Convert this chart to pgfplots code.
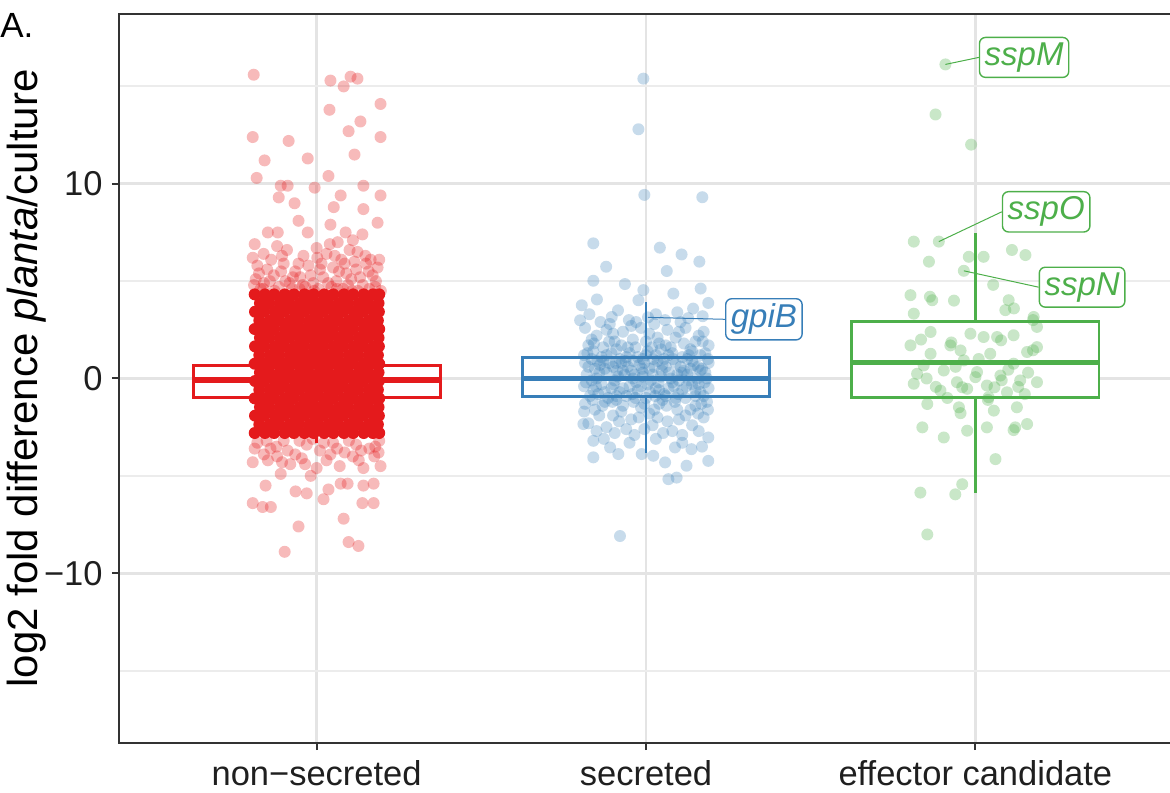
\documentclass[border=0pt]{standalone}
\usepackage{fontspec}
\setmainfont{Liberation Sans}
\usepackage{pgfplots}
\pgfplotsset{compat=1.18}
\usepackage{pgfplotstable}
\usepgfplotslibrary{statistics}

\definecolor{cred}{HTML}{E41A1C}
\definecolor{cblue}{HTML}{377EB8}
\definecolor{cgreen}{HTML}{4DAF4A}
\definecolor{gridmaj}{HTML}{E4E4E4}
\definecolor{gridmin}{HTML}{ECECEC}
\definecolor{axisdark}{HTML}{333333}

% non-secreted: dense centre of the cloud (one column of x per row of y)
\pgfplotstableread{
y a b c d e f g h i j k l m n
-2.80 0.812 0.843 0.871 0.903 0.931 0.963 0.991 1.023 1.051 1.083 1.111 1.143 1.171 1.190
-2.36 0.826 0.858 0.886 0.918 0.946 0.978 1.006 1.038 1.066 1.098 1.126 1.158 1.186 nan
-1.91 0.813 0.841 0.873 0.901 0.933 0.961 0.993 1.021 1.053 1.081 1.113 1.141 1.173 1.189
-1.47 0.828 0.856 0.888 0.916 0.948 0.976 1.008 1.036 1.068 1.096 1.128 1.156 1.188 nan
-1.02 0.812 0.843 0.871 0.903 0.931 0.963 0.991 1.023 1.051 1.083 1.111 1.143 1.171 1.190
-0.58 0.826 0.858 0.886 0.918 0.946 0.978 1.006 1.038 1.066 1.098 1.126 1.158 1.186 nan
-0.13 0.813 0.841 0.873 0.901 0.933 0.961 0.993 1.021 1.053 1.081 1.113 1.141 1.173 1.189
0.31 0.828 0.856 0.888 0.916 0.948 0.976 1.008 1.036 1.068 1.096 1.128 1.156 1.188 nan
0.76 0.812 0.843 0.871 0.903 0.931 0.963 0.991 1.023 1.051 1.083 1.111 1.143 1.171 1.190
1.20 0.826 0.858 0.886 0.918 0.946 0.978 1.006 1.038 1.066 1.098 1.126 1.158 1.186 nan
1.65 0.813 0.841 0.873 0.901 0.933 0.961 0.993 1.021 1.053 1.081 1.113 1.141 1.173 1.189
2.09 0.828 0.856 0.888 0.916 0.948 0.976 1.008 1.036 1.068 1.096 1.128 1.156 1.188 nan
2.54 0.812 0.843 0.871 0.903 0.931 0.963 0.991 1.023 1.051 1.083 1.111 1.143 1.171 1.190
2.98 0.826 0.858 0.886 0.918 0.946 0.978 1.006 1.038 1.066 1.098 1.126 1.158 1.186 nan
3.43 0.813 0.841 0.873 0.901 0.933 0.961 0.993 1.021 1.053 1.081 1.113 1.141 1.173 1.189
3.87 0.828 0.856 0.888 0.916 0.948 0.976 1.008 1.036 1.068 1.096 1.128 1.156 1.188 nan
4.32 0.812 0.843 0.871 0.903 0.931 0.963 0.991 1.023 1.051 1.083 1.111 1.143 1.171 1.190
}\nscore

% non-secreted: points around the centre and outliers
\pgfplotstableread{
x y
0.809 15.6
1.042 15.3
1.082 15.0
1.103 15.5
1.124 15.4
1.194 14.1
1.039 13.8
1.133 13.2
1.097 12.7
1.194 12.4
0.806 12.4
0.915 12.2
1.115 11.5
0.842 11.2
0.973 11.3
0.818 10.3
1.036 10.4
0.891 9.9
0.912 9.9
0.994 9.8
1.142 9.9
1.194 9.4
0.885 9.3
1.073 9.4
0.933 9.0
1.052 8.8
1.142 8.7
1.185 8.0
0.945 8.1
1.042 7.9
1.088 7.5
0.852 7.5
0.882 7.5
1.139 7.4
0.973 7.5
1.064 7.0
0.806 6.2
0.839 6.4
1.124 6.5
1.164 6.1
0.880 6.8
0.910 6.6
0.960 6.3
1.000 6.7
1.030 6.4
1.075 6.1
1.100 6.6
1.150 5.9
1.185 5.7
0.820 5.8
0.850 5.6
0.900 5.9
0.935 5.5
0.975 5.8
1.010 5.6
1.050 5.7
1.090 5.4
1.120 5.6
1.170 5.3
0.815 5.1
0.840 4.9
0.870 5.3
0.905 5.0
0.950 5.2
0.990 4.9
1.020 5.2
1.060 5.0
1.105 5.1
1.140 4.8
1.180 5.0
0.830 4.6
0.885 4.7
0.925 4.6
0.965 4.7
1.005 4.6
1.045 4.7
1.080 4.6
1.125 4.5
1.160 4.6
1.195 4.5
0.812 6.9
1.040 6.9
1.110 7.1
0.825 5.4
0.858 5.0
0.892 5.5
0.918 4.9
0.945 5.9
0.982 5.3
1.015 5.9
1.035 4.9
1.068 5.5
1.095 4.8
1.132 5.2
1.158 5.5
1.190 6.1
0.810 4.8
0.862 6.1
0.895 6.3
0.928 5.2
0.958 4.8
1.002 6.2
1.055 6.3
1.085 5.9
1.115 6.0
1.148 6.3
0.838 4.6
0.948 4.6
1.062 4.6
1.178 4.7
0.872 4.5
0.992 4.5
1.108 4.5
0.820 -3.3
0.860 -3.6
0.900 -3.2
0.935 -3.9
0.970 -3.4
1.010 -3.7
1.050 -3.3
1.085 -3.8
1.120 -3.4
1.160 -3.6
1.190 -3.2
0.840 -3.9
0.920 -4.4
0.955 -4.1
1.030 -4.2
1.070 -4.5
1.110 -4.0
1.175 -4.0
0.880 -4.0
1.000 -4.6
0.812 -3.6
0.848 -3.2
0.878 -3.5
0.912 -3.7
0.948 -3.2
0.988 -3.1
1.022 -3.3
1.062 -3.6
1.098 -3.2
1.135 -3.7
1.178 -3.5
0.895 -4.3
0.965 -4.4
1.042 -3.9
1.128 -4.2
1.188 -3.8
0.806 -4.3
0.852 -4.2
0.891 -4.9
0.845 -5.5
0.936 -5.8
0.970 -5.9
1.021 -6.2
1.036 -5.7
1.073 -5.4
1.094 -5.4
1.142 -4.6
1.173 -5.4
1.142 -5.5
1.194 -4.5
0.806 -6.4
0.836 -6.6
0.861 -6.6
1.139 -6.4
1.173 -6.4
1.082 -7.2
0.945 -7.6
1.097 -8.4
1.127 -8.6
0.903 -8.9
0.982 -5.0
}\nsother

% secreted
\pgfplotstableread{
x y
1.992 15.4
1.977 12.8
1.995 9.43
2.171 9.31
1.840 6.94
2.042 6.72
2.108 6.37
2.162 6.00
1.879 5.74
2.063 5.52
1.840 5.02
1.936 4.85
2.166 4.62
1.992 4.54
1.851 4.06
1.977 4.02
2.083 4.36
1.805 3.76
2.189 3.88
1.800 2.99
1.896 3.16
2.143 3.59
2.006 3.14
1.815 2.6
1.850 2.2
1.880 2.5
1.905 1.9
1.930 2.4
1.960 2.0
1.985 2.6
2.010 2.3
2.040 1.8
2.065 2.5
2.090 2.1
2.120 2.6
2.150 1.9
2.175 2.4
2.190 1.7
1.825 1.7
1.870 1.6
1.945 1.6
2.000 1.9
2.075 1.6
2.135 1.5
1.890 2.8
2.025 2.8
2.105 2.9
1.970 2.9
1.812 1.2
1.840 1.4
1.865 1.1
1.895 1.3
1.920 1.0
1.950 1.3
1.975 1.1
2.005 1.4
2.030 1.2
2.055 1.0
2.080 1.3
2.110 1.1
2.140 1.4
2.165 1.2
2.188 1.0
1.835 1.0
1.910 1.5
2.045 1.5
2.125 1.0
1.990 1.0
1.815 0.8
1.845 0.5
1.870 0.9
1.900 0.6
1.925 0.8
1.955 0.4
1.980 0.7
2.010 0.5
2.035 0.9
2.060 0.6
2.090 0.8
2.115 0.4
2.145 0.7
2.170 0.5
2.190 0.8
1.820 0.2
1.850 0.0
1.880 0.3
1.905 -0.1
1.935 0.2
1.960 0.0
1.990 0.3
2.015 -0.1
2.045 0.1
2.070 0.3
2.100 -0.1
2.125 0.2
2.155 0.0
2.180 0.3
1.812 -0.4
1.840 -0.6
1.865 -0.3
1.895 -0.5
1.920 -0.7
1.950 -0.4
1.975 -0.6
2.005 -0.3
2.030 -0.5
2.055 -0.8
2.085 -0.4
2.110 -0.6
2.140 -0.3
2.165 -0.7
2.190 -0.5
1.830 -0.9
1.885 -1.0
1.940 -0.9
2.000 -1.0
2.060 -0.9
2.120 -1.0
2.175 -0.9
1.860 0.7
1.915 0.1
1.970 -0.2
2.025 0.6
2.080 -0.2
2.135 0.5
1.835 -0.1
2.160 -0.3
1.945 0.6
2.095 0.2
1.825 0.6
1.858 0.3
1.888 0.8
1.912 0.4
1.938 0.9
1.965 0.2
1.995 0.8
2.020 0.2
2.050 0.7
2.075 0.0
2.105 0.6
2.130 -0.1
2.158 0.6
2.185 0.0
1.818 -0.2
1.848 -0.4
1.875 -0.7
1.902 -0.3
1.930 -0.5
1.958 -0.8
1.985 -0.4
2.012 -0.7
2.038 -0.2
2.068 -0.5
2.098 -0.8
2.122 -0.4
2.150 -0.6
2.178 -0.2
1.990 0.1
2.040 -0.6
1.815 -1.3
1.845 -1.6
1.875 -1.2
1.900 -1.9
1.930 -1.4
1.955 -2.1
1.985 -1.5
2.010 -1.8
2.040 -1.3
2.065 -2.2
2.095 -1.6
2.120 -1.9
2.150 -1.4
2.175 -2.0
1.825 -2.3
1.880 -2.5
1.940 -2.6
2.020 -2.4
2.080 -2.7
2.140 -2.4
2.185 -1.2
1.910 -1.1
2.050 -1.1
1.965 -2.9
2.110 -2.9
1.810 -2.34
1.840 -3.20
1.891 -3.54
1.916 -3.88
1.840 -4.05
1.987 -3.88
2.022 -3.97
2.058 -4.31
2.123 -4.48
2.189 -4.23
2.138 -3.63
2.088 -3.54
2.189 -3.03
2.068 -5.17
2.093 -5.09
1.921 -8.09
1.828 3.3
1.862 2.9
1.915 3.5
1.948 3.0
2.030 3.3
2.058 3.0
2.095 3.4
2.128 3.1
2.172 3.2
1.900 2.3
1.955 2.7
2.035 2.1
2.100 2.4
2.160 2.2
1.835 2.0
1.842 1.8
1.888 1.9
1.925 1.7
1.968 1.6
2.018 1.6
2.060 1.7
2.115 1.8
2.172 1.9
1.822 1.3
1.880 1.2
1.940 1.1
2.000 1.2
2.068 1.2
2.130 1.2
2.180 1.3
1.852 0.9
1.908 0.8
1.962 0.9
2.022 1.0
2.082 1.0
2.140 0.9
1.875 0.5
1.930 0.4
1.988 0.5
2.048 0.4
2.108 0.3
2.165 0.4
1.838 -1.1
1.868 -1.4
1.898 -1.2
1.925 -1.7
1.962 -1.2
1.995 -1.3
2.025 -1.6
2.062 -1.4
2.088 -1.2
2.135 -1.6
2.168 -1.3
1.858 -1.9
1.918 -2.2
1.978 -2.0
2.035 -2.0
2.100 -2.1
2.158 -1.8
1.812 -1.7
2.188 -1.6
1.855 -0.8
1.910 -0.9
1.968 -1.0
2.028 -0.9
2.090 -1.0
2.150 -0.9
1.850 -2.7
1.905 -2.8
1.995 -2.6
2.052 -2.8
2.160 -2.7
1.872 -3.1
1.950 -3.3
2.030 -3.1
2.110 -3.3
2.170 -3.5
}\secr

% effector candidate
\pgfplotstableread{
x y
2.909 16.13
2.879 13.56
2.987 12.01
2.813 7.03
2.889 7.03
2.859 6.00
2.980 6.25
3.025 6.25
3.111 6.60
3.152 6.34
2.965 5.53
3.054 4.81
2.803 4.28
2.869 4.02
3.101 4.02
2.813 3.33
3.091 3.51
3.177 3.16
2.864 2.39
2.803 1.70
2.924 1.70
2.985 2.30
3.025 2.13
3.066 2.13
3.116 2.22
3.187 2.65
3.187 1.61
2.864 1.27
2.955 1.44
3.045 1.27
3.157 1.36
2.823 0.24
2.904 0.41
3.005 0.33
3.076 0.15
3.187 -0.19
2.813 -0.27
2.944 -0.19
3.035 -0.36
3.136 -0.10
2.894 -0.62
2.975 -0.53
3.096 -0.71
2.843 0.67
3.116 0.76
2.965 0.93
2.854 -1.31
2.950 -1.48
3.040 -0.96
3.056 -1.65
3.126 -1.48
2.839 -2.51
2.904 -3.03
3.035 -2.51
3.121 -2.51
3.157 -2.34
2.975 -2.68
3.061 -4.14
2.960 -5.43
2.833 -5.86
2.939 -5.95
2.854 -8.01
2.862 4.20
2.935 4.00
3.117 3.60
3.175 3.00
2.927 1.85
3.078 1.96
3.175 1.45
2.940 0.60
3.000 0.07
3.080 -0.09
2.880 -0.43
2.960 -0.45
3.058 -0.45
3.130 -0.43
2.955 -1.78
3.038 -1.10
3.116 -2.65
2.852 0.00
3.010 1.00
3.100 0.45
2.915 -1.00
3.160 0.30
2.835 2.00
3.150 -0.80
}\effc

\tikzset{
  lab/.style={rounded corners=3pt, line width=0.7pt, fill=white, inner sep=2.6pt,
    font=\fontsize{16.5}{19}\selectfont\itshape},
}
\pgfplotsset{
  dots/.style 2 args={only marks, mark=*, mark size=3pt,
    mark options={draw opacity=0, fill=#1, fill opacity=#2}},
}

\begin{document}
\begin{tikzpicture}
\begin{axis}[
  scale only axis,
  width=527pt, height=364.5pt,
  xmin=0.4, xmax=3.6, ymin=-18.72, ymax=18.72,
  xtick={1,2,3},
  xticklabels={non−secreted, secreted, effector candidate},
  ytick={-10,0,10},
  yticklabels={−10,0,10},
  minor ytick={-15,-5,5,15},
  grid=both,
  major grid style={line width=1.3pt, draw=gridmaj},
  minor grid style={line width=1.0pt, draw=gridmin},
  tick pos=left,
  tick align=outside,
  major tick length=3.5pt,
  minor tick length=0pt,
  major tick style={line width=1pt, draw=axisdark},
  axis line style={line width=1.3pt, draw=axisdark},
  ticklabel style={font=\fontsize{17.25}{20}\selectfont, text=black!88},
  xticklabel style={inner sep=0pt, yshift=-5pt},
  yticklabel style={inner sep=0pt, xshift=-4.5pt},
  clip=false,
]
% boxes
\addplot[draw=cred, line width=1.4pt, fill=white,
  boxplot prepared={median=-0.09, upper quartile=0.68, lower quartile=-0.96,
    upper whisker=3.1, lower whisker=-3.3, draw position=1, draw direction=y,
    box extend=0.75, whisker extend=0,
    every median/.style={line width=2.8pt}}] coordinates {};
\addplot[draw=cblue, line width=1.4pt, fill=white,
  boxplot prepared={median=0.0, upper quartile=1.08, lower quartile=-0.93,
    upper whisker=3.93, lower whisker=-3.84, draw position=2, draw direction=y,
    box extend=0.75, whisker extend=0,
    every median/.style={line width=2.8pt}}] coordinates {};
\addplot[draw=cgreen, line width=1.4pt, fill=white,
  boxplot prepared={median=0.82, upper quartile=2.94, lower quartile=-0.98,
    upper whisker=7.45, lower whisker=-5.9, draw position=3, draw direction=y,
    box extend=0.75, whisker extend=0,
    every median/.style={line width=2.8pt}}] coordinates {};

% jittered genes
\pgfplotsinvokeforeach{a,b,c,d,e,f,g,h,i,j,k,l,m,n}{
  \addplot[dots={cred}{1}] table[x=#1, y=y] {\nscore};
}
\addplot[dots={cred}{0.3}] table {\nsother};
\addplot[dots={cblue}{0.28}] table {\secr};
\addplot[dots={cgreen}{0.3}] table {\effc};

% gene labels
\node[lab, draw=cblue, text=cblue] (gpiB) at (axis cs:2.358,3.04) {gpiB};
\draw[cblue, line width=0.5pt] (axis cs:2.006,3.14) -- (gpiB.west);
\node[lab, draw=cgreen, text=cgreen] (sspM) at (axis cs:3.148,16.49) {sspM};
\draw[cgreen, line width=0.5pt] (axis cs:2.909,16.13) -- (sspM.west);
\node[lab, draw=cgreen, text=cgreen] (sspO) at (axis cs:3.215,8.56) {sspO};
\draw[cgreen, line width=0.5pt] (axis cs:2.889,7.03) -- (sspO.west);
\node[lab, draw=cgreen, text=cgreen] (sspN) at (axis cs:3.324,4.69) {sspN};
\draw[cgreen, line width=0.5pt] (axis cs:2.965,5.53) -- (sspN.west);

\coordinate (sw) at (rel axis cs:0,0);
\coordinate (ne) at (rel axis cs:1,1);
\coordinate (lmid) at (rel axis cs:0,0.5);
\end{axis}
\pgfresetboundingbox
\path[use as bounding box] ([shift={(-59.5pt,-24.5pt)}]sw) rectangle ([shift={(-1.5pt,7pt)}]ne);
\node[rotate=90, anchor=center, inner sep=0pt, font=\fontsize{21}{25}\selectfont]
  at ([xshift=-46pt]lmid) {log2 fold difference \textit{planta}/culture};
\node[anchor=base west, inner sep=0pt, font=\fontsize{17.5}{20}\selectfont]
  at ([shift={(-59.5pt,-12pt)}]sw |- ne) {A.};
\end{tikzpicture}
\end{document}
